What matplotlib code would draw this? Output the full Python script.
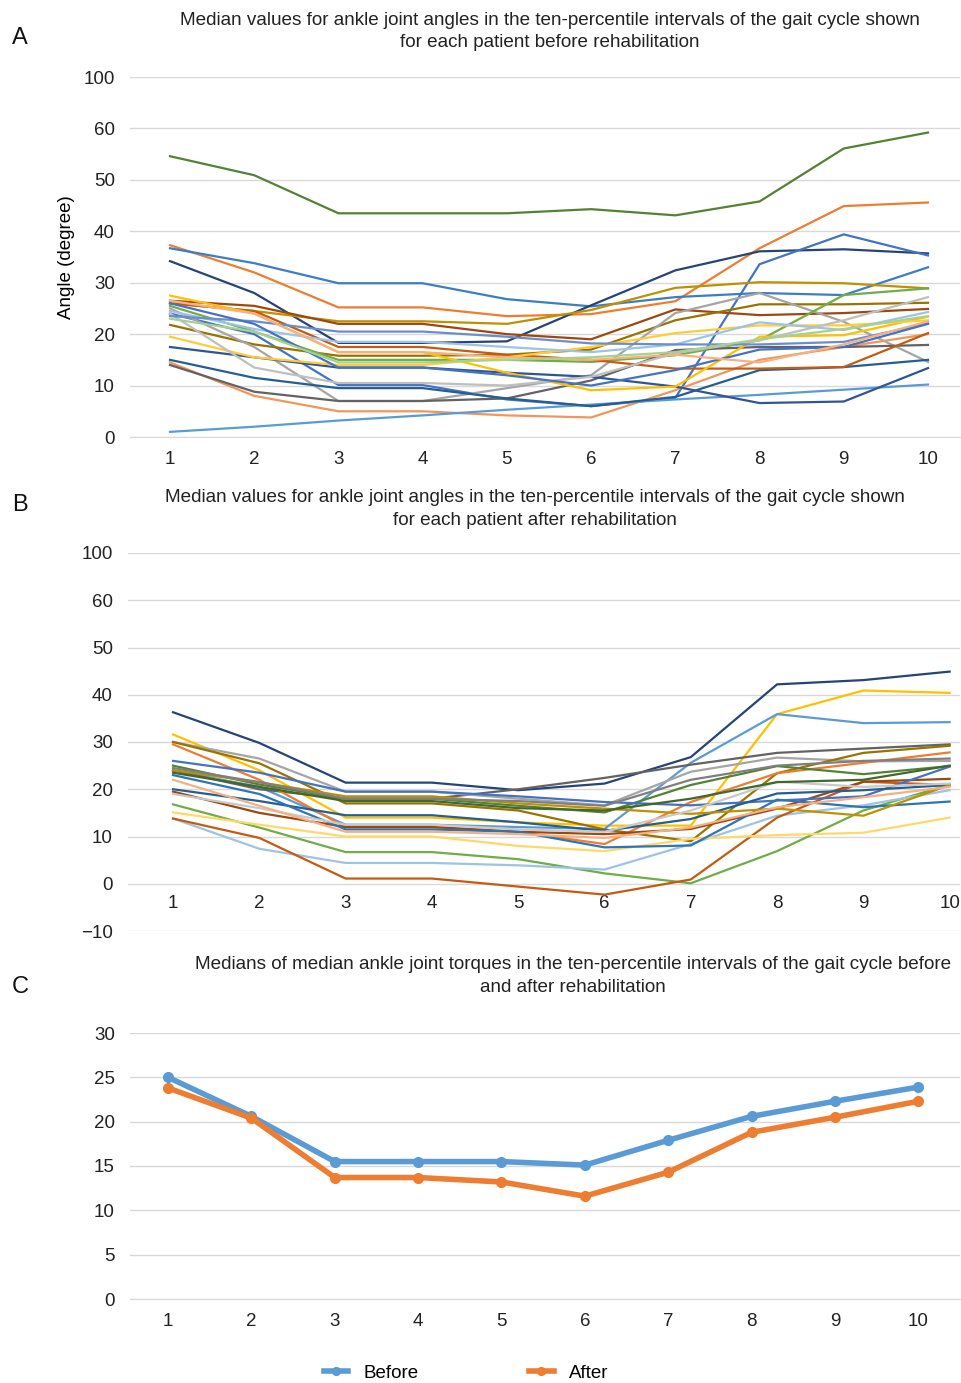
import matplotlib
matplotlib.use("Agg")
import matplotlib.pyplot as plt

plt.rcParams['font.family'] = ['Liberation Sans', 'DejaVu Sans']

intervals = list(range(1, 11))

# panel A - each patient before rehabilitation (angle, degree)
before_series = [
    ('#548235', [54.6, 50.9, 43.5, 43.5, 43.5, 44.3, 43.1, 45.8, 56.1, 59.2]),
    ('#ED7D31', [37.3, 32.0, 25.2, 25.2, 23.5, 23.9, 26.4, 36.7, 44.9, 45.6]),
    ('#3C7DC4', [36.7, 33.8, 29.9, 29.9, 26.8, 25.4, 27.2, 28.0, 27.6, 33.0]),
    ('#264478', [34.2, 28.0, 18.3, 18.3, 18.6, 25.6, 32.4, 36.1, 36.5, 35.7]),
    ('#4472C4', [24.0, 20.0, 10.1, 10.1, 7.3, 6.0, 7.6, 33.6, 39.4, 35.3]),
    ('#BF9000', [26.0, 24.5, 22.5, 22.5, 22.0, 24.7, 29.0, 30.1, 29.9, 28.9]),
    ('#9E480E', [26.5, 25.5, 22.0, 22.0, 20.0, 19.0, 24.8, 23.7, 24.1, 24.9]),
    ('#997300', [21.8, 18.0, 15.8, 15.8, 16.0, 17.0, 22.7, 25.8, 25.8, 26.1]),
    ('#A5A5A5', [25.0, 17.5, 7.0, 7.0, 9.5, 12.0, 24.1, 28.0, 22.4, 14.6]),
    ('#70AD47', [25.5, 20.5, 15.0, 15.0, 15.0, 14.6, 15.9, 18.8, 27.6, 28.9]),
    ('#F1975A', [14.5, 8.0, 5.0, 5.0, 4.2, 3.8, 9.1, 15.0, 17.5, 20.0]),
    ('#5B9BD5', [1.0, 2.0, 3.2, 4.2, 5.3, 6.3, 7.3, 8.2, 9.2, 10.2]),
    ('#636363', [14.0, 8.8, 7.0, 7.0, 7.5, 11.0, 16.9, 17.5, 17.5, 17.9]),
    ('#255E91', [15.0, 11.5, 9.5, 9.5, 7.5, 6.0, 7.8, 13.0, 13.6, 15.0]),
    ('#2F5597', [17.5, 15.5, 13.5, 13.5, 12.5, 11.7, 9.8, 6.6, 6.9, 13.4]),
    ('#C55A11', [26.0, 24.5, 17.5, 17.5, 16.0, 15.0, 13.3, 13.3, 13.6, 20.2]),
    ('#FFC000', [27.5, 24.0, 16.5, 16.5, 12.5, 9.1, 9.8, 19.5, 19.8, 23.4]),
    ('#FFCD33', [19.5, 15.5, 14.0, 14.0, 15.5, 17.5, 20.2, 21.7, 21.7, 22.7]),
    ('#BFBFBF', [24.0, 13.5, 10.5, 10.5, 10.0, 11.7, 16.3, 18.8, 22.7, 27.2]),
    ('#9DC3E6', [24.5, 21.0, 18.5, 18.5, 17.5, 16.5, 18.0, 22.3, 20.8, 24.3]),
    ('#698ED0', [23.5, 22.5, 20.5, 20.5, 19.5, 18.2, 18.0, 18.0, 18.5, 22.1]),
    ('#4472C4', [26.0, 22.0, 13.5, 13.5, 12.0, 10.0, 13.0, 17.0, 17.5, 22.0]),
    ('#F4B183', [26.5, 24.0, 16.5, 16.5, 15.5, 15.0, 16.0, 14.5, 18.0, 22.5]),
    ('#A9D18E', [23.0, 20.5, 14.5, 14.5, 15.0, 15.5, 16.5, 19.0, 21.0, 23.5]),
]

# panel B - each patient after rehabilitation
after_series = [
    ('#264478', [36.3, 29.8, 21.4, 21.4, 19.8, 21.2, 26.8, 42.2, 43.1, 44.9]),
    ('#FFC000', [31.6, 24.0, 14.0, 14.0, 13.0, 12.3, 12.3, 35.9, 40.9, 40.4]),
    ('#5B9BD5', [24.0, 20.5, 12.5, 12.5, 12.0, 11.6, 25.6, 35.9, 34.0, 34.2]),
    ('#636363', [24.0, 20.0, 18.0, 18.0, 20.0, 22.4, 25.2, 27.7, 28.6, 29.5]),
    ('#A5A5A5', [30.0, 26.5, 19.5, 19.5, 18.0, 16.6, 23.7, 26.7, 25.9, 26.0]),
    ('#997300', [30.0, 25.5, 17.0, 17.0, 15.5, 11.5, 9.0, 23.4, 27.7, 29.2]),
    ('#ED7D31', [29.5, 22.0, 12.0, 12.0, 11.0, 8.4, 17.3, 23.4, 25.6, 27.8]),
    ('#548235', [25.0, 21.0, 18.0, 18.0, 16.5, 15.1, 20.9, 24.9, 23.2, 24.9]),
    ('#70AD47', [16.8, 11.9, 6.7, 6.7, 5.2, 2.2, 0.1, 6.9, 15.5, 21.0]),
    ('#9DC3E6', [13.8, 7.4, 4.4, 4.4, 3.9, 3.0, 8.4, 14.4, 16.6, 19.8]),
    ('#C55A11', [13.8, 9.7, 1.1, 1.1, -0.6, -2.3, 0.9, 14.0, 21.6, 20.9]),
    ('#FFD966', [15.1, 12.5, 10.0, 10.0, 8.0, 6.9, 9.5, 10.3, 10.8, 14.0]),
    ('#9E480E', [19.5, 15.0, 12.0, 12.0, 11.0, 10.5, 11.6, 15.9, 21.6, 22.2]),
    ('#4472C4', [26.0, 23.5, 19.5, 19.5, 18.5, 17.3, 16.6, 17.6, 18.5, 24.8]),
    ('#255E91', [20.0, 17.5, 14.5, 14.5, 13.0, 11.2, 13.7, 19.1, 19.8, 20.9]),
    ('#2E75B6', [23.0, 19.0, 11.5, 11.5, 11.0, 7.7, 8.1, 17.8, 16.2, 17.4]),
    ('#BF9000', [24.0, 21.5, 18.5, 18.5, 17.0, 15.9, 14.8, 15.9, 14.4, 20.9]),
    ('#C9C9C9', [19.0, 16.0, 12.5, 12.5, 11.5, 11.0, 15.5, 21.6, 20.5, 21.2]),
    ('#F4B183', [22.0, 16.5, 11.0, 11.0, 10.5, 9.7, 11.9, 16.2, 18.3, 20.5]),
    ('#43682B', [23.5, 20.5, 17.5, 17.5, 16.0, 15.5, 18.0, 21.5, 22.0, 25.0]),
    ('#7F7F7F', [24.5, 21.5, 18.0, 18.0, 17.5, 16.5, 22.0, 25.0, 26.0, 26.5]),
]

# panel C - medians of median torques
torque_before = [25.0, 20.6, 15.5, 15.5, 15.5, 15.1, 17.9, 20.6, 22.3, 23.9]
torque_after = [23.8, 20.4, 13.7, 13.7, 13.2, 11.6, 14.3, 18.8, 20.5, 22.3]

# angle axes: the top gridline is labelled 100 (broken scale)
angle_ticks_a = [0, 10, 20, 30, 40, 50, 60, 70]
angle_labels_a = ['0', '10', '20', '30', '40', '50', '60', '100']
angle_ticks_b = [-10, 0, 10, 20, 30, 40, 50, 60, 70]
angle_labels_b = ['\u221210', '0', '10', '20', '30', '40', '50', '60', '100']
torque_ticks = [0, 5, 10, 15, 20, 25, 30]

W, H = 961, 1383
fig = plt.figure(figsize=(W / 100, H / 100), dpi=100)

def box(x0, x1, ytop, ybot):
    return [x0 / W, 1 - ybot / H, (x1 - x0) / W, (ybot - ytop) / H]

def style(ax, ticks, labels):
    ax.set_yticks(ticks)
    ax.set_yticklabels(labels)
    ax.set_xticks(intervals)
    ax.grid(axis='y', color='#D9D9D9', lw=1)
    ax.set_axisbelow(True)
    for s in ['top', 'right', 'left']:
        ax.spines[s].set_visible(False)
    ax.spines['bottom'].set_color('#D9D9D9')
    ax.tick_params(length=0, labelsize=13.5, colors='#222222')
    ax.tick_params(axis='y', pad=11)
    ax.tick_params(axis='x', pad=10)

axA = fig.add_axes(box(130, 960, 77, 437))
for c, v in before_series:
    axA.plot(intervals, v, color=c, lw=1.6)
axA.set_xlim(0.525, 10.38)
axA.set_ylim(0, 70)
style(axA, angle_ticks_a, angle_labels_a)
axA.set_ylabel('Angle (degree)', fontsize=13.5, labelpad=6)

axB = fig.add_axes(box(128, 960, 553, 931))
for c, v in after_series:
    axB.plot(intervals, v, color=c, lw=1.6)
axB.set_xlim(0.478, 10.12)
axB.set_ylim(-10, 70)
style(axB, angle_ticks_b, angle_labels_b)
axB.spines['bottom'].set_position(('data', 0))
axB.spines['bottom'].set_visible(False)
axB.tick_params(axis='x', pad=8)

axC = fig.add_axes(box(130, 960, 1033, 1299))
lb, = axC.plot(intervals, torque_before, color='#5B9BD5', lw=4, marker='o', ms=7, label='Before')
la, = axC.plot(intervals, torque_after, color='#ED7D31', lw=4, marker='o', ms=7, label='After')
axC.set_xlim(0.544, 10.5)
axC.set_ylim(0, 30)
style(axC, torque_ticks, [str(t) for t in torque_ticks])

title_kw = dict(ha='center', va='center', fontsize=13.6, linespacing=1.4, color='#222222')
fig.text(550 / W, 1 - 31.5 / H,
         'Median values for ankle joint angles in the ten-percentile intervals of the gait cycle shown\n'
         'for each patient before rehabilitation', **title_kw)
fig.text(535 / W, 1 - 509 / H,
         'Median values for ankle joint angles in the ten-percentile intervals of the gait cycle shown\n'
         'for each patient after rehabilitation', **title_kw)
fig.text(573 / W, 1 - 976 / H,
         'Medians of median ankle joint torques in the ten-percentile intervals of the gait cycle before\n'
         'and after rehabilitation', **title_kw)

for letter, y in [('A', 38), ('B', 505), ('C', 987)]:
    fig.text(20 / W, 1 - y / H, letter, ha='center', va='center', fontsize=17, color='#111111')

fig.legend(handles=[lb, la], loc='center', bbox_to_anchor=(466 / W, 1 - 1373 / H),
           ncol=2, frameon=False, fontsize=13.5, handlelength=1.3, columnspacing=5.9,
           markerscale=0.8)

fig.savefig('out.png', dpi=100)
